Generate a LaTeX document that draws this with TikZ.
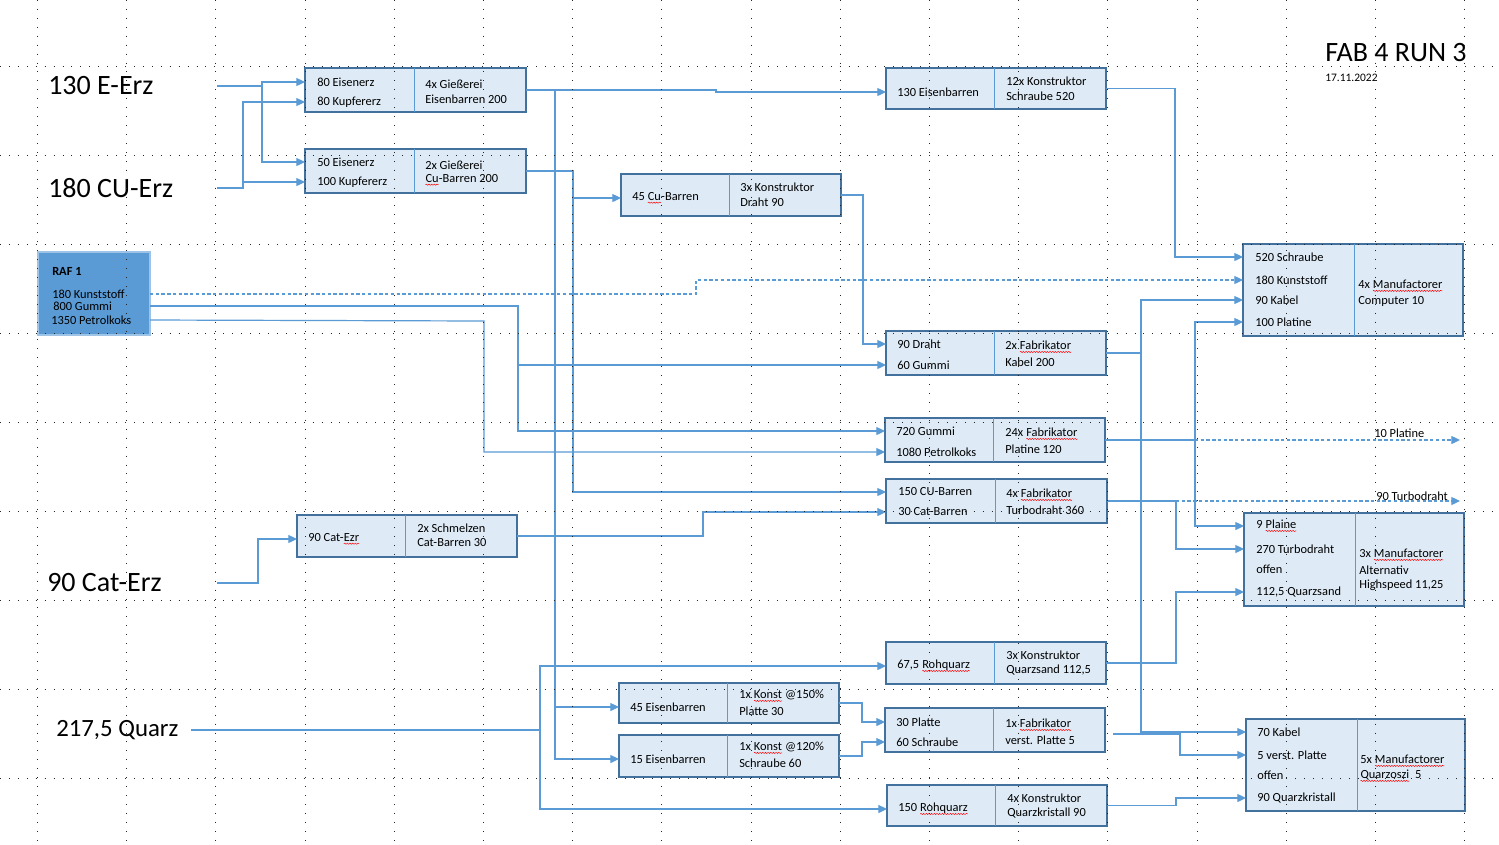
\documentclass[tikz,border=0pt]{standalone}
\usepackage{fontspec}
\setmainfont{Carlito}
\usetikzlibrary{arrows.meta,decorations.pathmorphing}
\definecolor{linecol}{HTML}{5B9BD5}
\definecolor{boxborder}{HTML}{41719C}
\definecolor{boxfill}{HTML}{DEEBF7}
\definecolor{rafborder}{HTML}{9DC3E6}
\newcommand\spl[1]{\tikz[baseline=(w.base)]{\node[inner sep=0pt,outer sep=0pt,anchor=center] (w) {#1};
  \draw[red, line width=0.35pt, decorate, decoration={snake,amplitude=0.45pt,segment length=2pt}] ([yshift=-1.6pt]w.base west) -- ([yshift=-1.6pt]w.base east);}}
\tikzset{
  box/.style={draw=boxborder, fill=boxfill, line width=1.5pt, inner sep=0pt, outer sep=0pt, anchor=north west, rectangle},
  raf/.style={draw=rafborder, fill=linecol, line width=1.2pt, inner sep=0pt, outer sep=0pt, anchor=north west, rectangle},
  divl/.style={draw=linecol, line width=0.75pt},
  t/.style={anchor=west, inner sep=0pt, font=\fontsize{9.3}{11}\selectfont, text=black},
  conn/.style={draw=linecol, line width=0.9pt, -{Triangle[length=6.5pt,width=6pt]}},
  wire/.style={draw=linecol, line width=0.9pt},
  dsh/.style={dash pattern=on 2.5pt off 1.8pt},
  big/.style={anchor=west, inner sep=0pt, font=\fontsize{21}{25}\selectfont},
  gridl/.style={draw=black!85, line width=0.7pt, dash pattern=on 0.7pt off 6pt},
}
\newcommand\procbox[6]{%
  \node[box, minimum width={(#4-#2)*0.75pt}, minimum height={(#5-#3)*0.75pt}] (#1) at (#2,#3) {};
  \draw[divl] (#6,#3) -- (#6,#5);
}
\begin{document}
\begin{tikzpicture}[x=0.75pt,y=-0.75pt]
\useasboundingbox (0,0) rectangle (1499,844);
\fill[white] (0,0) rectangle (1499,844);

% ---------- boxes ----------
\procbox{A}{305}{68}{526}{112}{414}
\node[t] (A1) at (317,82) {80 Eisenerz};
\node[t] (A2) at (317,102) {80 Kupfererz};
\node[t] (A3) at (425,84) {4x Gießerei};
\node[t] (A4) at (425,99) {Eisenbarren 200};

\procbox{B}{305}{149}{526}{193}{414}
\node[t] (B1) at (317,162) {50 Eisenerz};
\node[t] (B2) at (317,182) {100 Kupfererz};
\node[t] (B3) at (425,165) {2x Gießerei};
\node[t] (B4) at (425,180) {\spl{Cu}-Barren 200};

\procbox{C}{621}{174}{841}{216}{729}
\node[t] (C1) at (632,198) {45 \spl{Cu}-Barren};
\node[t] (C3) at (740,187) {3x Konstruktor};
\node[t] (C4) at (740,202) {Draht 90};

\procbox{D}{886}{68}{1106}{109}{994}
\node[t] (D1) at (897,92) {130 Eisenbarren};
\node[t] (D3) at (1006,81) {12x Konstruktor};
\node[t] (D4) at (1006,96) {Schraube 520};

\procbox{E}{1243}{244}{1463}{336}{1354}
\node[t] (E1) at (1255,257) {520 Schraube};
\node[t] (E2) at (1255,280) {180 Kunststoff};
\node[t] (E3) at (1255,300) {90 Kabel};
\node[t] (E4) at (1255,322) {100 Platine};
\node[t] (E5) at (1358,286) {4x \spl{Manufactorer}};
\node[t] (E6) at (1358,301) {Computer 10};

\procbox{F}{886}{331}{1106}{375}{994}
\node[t] (F1) at (897,344) {90 Draht};
\node[t] (F2) at (897,365) {60 Gummi};
\node[t] (F3) at (1005,347) {2x \spl{Fabrikator}};
\node[t] (F4) at (1005,362) {Kabel 200};

\procbox{G}{885}{418}{1105}{462}{993}
\node[t] (G1) at (896,431) {720 Gummi};
\node[t] (G2) at (896,452) {1080 Petrolkoks};
\node[t] (G3) at (1005,434) {24x \spl{Fabrikator}};
\node[t] (G4) at (1005,449) {Platine 120};

\procbox{H}{886}{479}{1107}{523}{995}
\node[t] (H1) at (898,492) {150 CU-Barren};
\node[t] (H2) at (898,512) {30 Cat-Barren};
\node[t] (H3) at (1006,495) {4x \spl{Fabrikator}};
\node[t] (H4) at (1006,510) {Turbodraht 360};

\procbox{I}{297}{515}{517}{557}{405}
\node[t] (I1) at (308,539) {90 Cat-\spl{Ezr}};
\node[t] (I3) at (417,528) {2x Schmelzen};
\node[t] (I4) at (417,543) {Cat-Barren 30};

\procbox{J}{1244}{513}{1464}{606}{1355}
\node[t] (J1) at (1256,526) {9 \spl{Plaine}};
\node[t] (J2) at (1256,549) {270 Turbodraht};
\node[t] (J3) at (1256,569) {offen};
\node[t] (J4) at (1256,592) {112,5 Quarzsand};
\node[t] (J5) at (1359,555) {3x \spl{Manufactorer}};
\node[t] (J6) at (1359,570) {Alternativ};
\node[t] (J7) at (1359,585) {Highspeed 11,25};

\procbox{K}{886}{642}{1106}{684}{994}
\node[t] (K1) at (897,666) {67,5 \spl{Rohquarz}};
\node[t] (K3) at (1006,655) {3x Konstruktor};
\node[t] (K4) at (1006,670) {Quarzsand 112,5};

\procbox{L}{619}{683}{839}{723}{727}
\node[t] (L1) at (630,707) {45 Eisenbarren};
\node[t] (L3) at (739,696) {1x \spl{Konst} @150\%};
\node[t] (L4) at (739,711) {Platte 30};

\procbox{M}{619}{735}{839}{777}{727}
\node[t] (M1) at (630,759) {15 Eisenbarren};
\node[t] (M3) at (739,748) {1x \spl{Konst} @120\%};
\node[t] (M4) at (739,763) {Schraube 60};

\procbox{N}{885}{708}{1105}{752}{993}
\node[t] (N1) at (896,722) {30 Platte};
\node[t] (N2) at (896,742) {60 Schraube};
\node[t] (N3) at (1005,725) {1x \spl{Fabrikator}};
\node[t] (N4) at (1005,740) {verst. Platte 5};

\procbox{O}{887}{785}{1107}{826}{995}
\node[t] (O1) at (898,809) {150 \spl{Rohquarz}};
\node[t] (O3) at (1007,798) {4x Konstruktor};
\node[t] (O4) at (1007,813) {Quarzkristall 90};

\procbox{P}{1246}{719}{1465}{811}{1357}
\node[t] (P1) at (1257,732) {70 Kabel};
\node[t] (P2) at (1257,755) {5 verst. Platte};
\node[t] (P3) at (1257,775) {offen};
\node[t] (P4) at (1257,798) {90 Quarzkristall};
\node[t] (P5) at (1360,761) {5x \spl{Manufactorer}};
\node[t] (P6) at (1360,776) {\spl{Quarzoszi}\ \ 5};

% RAF 1
\node[raf, minimum width={112*0.75pt}, minimum height={83*0.75pt}] (R) at (38,252) {};
\node[t, font=\fontsize{9.3}{11}\selectfont\bfseries] (R1) at (52,271) {RAF 1};
\node[t] (R2) at (52,294) {180 Kunststoff};
\node[t] (R3) at (53,306) {800 Gummi};
\node[t] (R4) at (51,320) {1350 Petrolkoks};

% big labels
\node[big] (eerz) at (48,86) {130 E-Erz};
\node[big] (cuerz) at (48,188) {180 CU-Erz};
\node[big] (caterz) at (47,583) {90 Cat-Erz};
\node[big, font=\fontsize{18.6}{22}\selectfont] (quarz) at (56,730) {217,5 Quarz};
\node[big] (title) at (1325,53) {FAB 4 RUN 3};
\node[t, font=\fontsize{8.6}{10}\selectfont] (date) at (1325,78) {17.11.2022};

% ---------- connectors ----------
\coordinate (eS) at (217,86);
\coordinate (eJ) at (262,86);
\draw[conn] (eS) -- (eJ) |- (A.west |- A1);
\draw[conn] (eJ) |- (B.west |- B1);

\coordinate (cS) at (217,188);
\coordinate (cJ) at (243,188);
\draw[conn] (cS) -- (cJ) |- (A.west |- A2);
\draw[conn] (cJ) |- (B.west |- B2);

\coordinate (aJ) at (555,90);
\draw[conn] (A.east) -- ++(190,0) |- (D.west |- D1);
\draw[conn] (A.east) -- (aJ) |- (L.west |- L1);
\draw[conn] (aJ) |- (M.west |- M1);

\coordinate (bJ) at (573,171);
\draw[conn] (B.east) -- (bJ) |- (C.west |- C1);
\draw[conn] (bJ) |- (H.west |- H1);

\draw[conn] (C.east) -- (863,195) |- (F.west |- F1);
\draw[conn] (D.east) -- (1175,88.5) |- (E.west |- E1);

\draw[conn, dsh] (R.east |- R2) -- (696,294) |- (E.west |- E2);
\coordinate (gJ) at (518,306);
\draw[conn] (R.east |- R3) -- (gJ) |- (G.west |- G1);
\draw[conn] (gJ) |- (F.west |- F2);
\draw[conn] (R.east |- R4) -- (484,321) |- (G.west |- G2);

\coordinate (fJ) at (1141,353);
\draw[conn] (F.east) -- (fJ) |- (E.west |- E3);
\draw[conn] (fJ) |- (P.west |- P1);

\coordinate (plJ) at (1195,440);
\coordinate (plEnd) at (1460,440);
\draw[wire, line width=1.5pt] (G.east) -- (plJ);
\draw[conn, dsh] (plJ) -- (plEnd);
\node[t] (plL) at (1374,433) {10 Platine};
\draw[conn] (plJ) |- (E.west |- E4);
\draw[conn] (plJ) |- (J.west |- J1);

\coordinate (tdJ) at (1176,501);
\coordinate (tdEnd) at (1460,501);
\draw[wire] (H.east) -- (tdJ);
\draw[conn, dsh] (tdJ) -- (tdEnd);
\node[t] (tdL) at (1376,496) {90 Turbodraht};
\draw[conn] (tdJ) |- (J.west |- J2);

\draw[conn] (I.east) -- (703,536) |- (H.west |- H2);

\coordinate (catS) at (217,583);
\draw[conn] (catS) -- (258,583) |- (I.west |- I1);

\coordinate (qS) at (191,730);
\coordinate (qJ) at (540,730);
\draw[wire] (qS) -- (qJ);
\draw[conn] (qJ) |- (K.west |- K1);
\draw[conn] (qJ) |- (O.west |- O1);

\draw[conn] (K.east) -- (1176,663) |- (J.west |- J4);
\draw[conn] (L.east) -- (862,703) |- (N.west |- N1);
\draw[conn] (M.east) -- (862,756) |- (N.west |- N2);
\draw[conn] ([xshift=6pt,yshift=-3pt]N.east) -- (1180,734) |- (P.west |- P2);
\draw[conn] (O.east) -- (1176,805.5) |- (P.west |- P4);

% ---------- page grid ----------
\foreach \k in {0,...,8} \draw[gridl] (0,{66.5+89*\k}) -- (1499,{66.5+89*\k});
\foreach \k in {0,...,16} \draw[gridl] ({37.5+89.2*\k},0) -- ({37.5+89.2*\k},844);
\end{tikzpicture}
\end{document}
